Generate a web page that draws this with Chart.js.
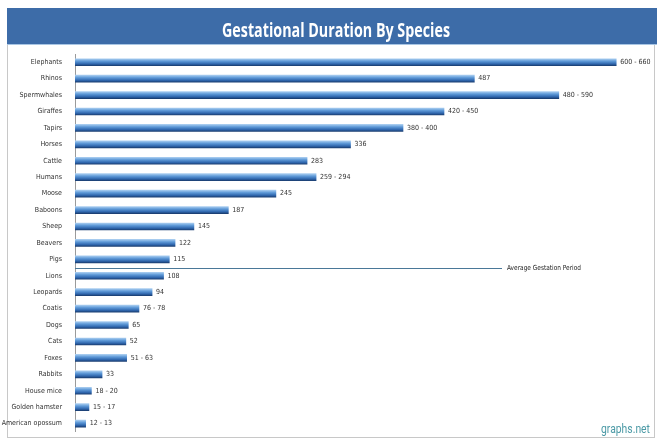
<!DOCTYPE html>
<html>
<head>
<meta charset="utf-8">
<title>Gestational Duration By Species</title>
<script src="https://cdn.jsdelivr.net/npm/chart.js@4.4.1/dist/chart.umd.min.js"></script>
<style>
  html, body { margin: 0; padding: 0; background: #fff; }
  #wrap { position: relative; width: 657px; height: 441px; }
</style>
</head>
<body>
<div id="wrap"><canvas id="chart" width="657" height="441"></canvas></div>
<script>
// species, top to bottom
const species = ['Elephants', 'Rhinos', 'Spermwhales', 'Giraffes', 'Tapirs', 'Horses', 'Cattle',
  'Humans', 'Moose', 'Baboons', 'Sheep', 'Beavers', 'Pigs', 'Lions', 'Leopards', 'Coatis',
  'Dogs', 'Cats', 'Foxes', 'Rabbits', 'House mice', 'Golden hamster', 'American opossum'];
// bar length in days (upper end of a range)
const days = [660, 487, 590, 450, 400, 336, 283, 294, 245, 187, 145, 122, 115, 108, 94, 78,
  65, 62, 63, 33, 20, 17, 13];
// text printed at the end of each bar
const dayLabels = ['600 - 660', '487', '480 - 590', '420 - 450', '380 - 400', '336', '283',
  '259 - 294', '245', '187', '145', '122', '115', '108', '94', '76 - 78', '65', '52', '51 - 63',
  '33', '18 - 20', '15 - 17', '12 - 13'];

const TITLE = 'Gestational Duration By Species';
const AVG_TEXT = 'Average Gestation Period';
const AVG_AFTER = 'Pigs';   // average line sits below this row
const smallFont = '"DejaVu Sans Condensed", sans-serif';

// ===== bar fill: cylinder-like vertical gradient =====
function barFill(c) {
  const chart = c.chart;
  if (!chart.chartArea) return '#3f7cc0';
  const y = chart.scales.y.getPixelForValue(c.dataIndex);
  const g = chart.ctx.createLinearGradient(0, y - 3.5, 0, y + 3.5);
  g.addColorStop(0, '#a9cdf0');
  g.addColorStop(0.35, '#5f9ad8');
  g.addColorStop(0.75, '#2f66ad');
  g.addColorStop(1, '#1b3f73');
  return g;
}

// ===== decorations: title bar, frame, value labels, average line, watermark =====
const decor = {
  id: 'decor',
  beforeDraw(chart) {
    const ctx = chart.ctx;
    ctx.save();
    ctx.fillStyle = '#fff';
    ctx.fillRect(0, 0, chart.width, chart.height);
    // frame
    ctx.strokeStyle = '#c8c8c8';
    ctx.lineWidth = 1;
    ctx.strokeRect(7.5, 44.5, 647, 393);
    // title bar
    ctx.fillStyle = '#3d6ca8';
    ctx.fillRect(7, 8, 650, 36);
    ctx.fillStyle = '#a9c6e4';
    ctx.fillRect(7, 44, 650, 1);
    ctx.fillStyle = '#ffffff';
    ctx.font = 'bold 20px "Open Sans", sans-serif';
    ctx.textAlign = 'center';
    ctx.textBaseline = 'alphabetic';
    ctx.fillText(TITLE, 336, 37, 228);
    ctx.restore();
  },
  afterDatasetsDraw(chart) {
    const ctx = chart.ctx;
    const xs = chart.scales.x, ys = chart.scales.y;
    const meta = chart.getDatasetMeta(0);
    ctx.save();
    ctx.font = '7px ' + smallFont;
    ctx.fillStyle = '#333';
    ctx.textAlign = 'left';
    ctx.textBaseline = 'middle';
    meta.data.forEach((bar, i) => {
      ctx.fillText(dayLabels[i], bar.x + 4, bar.y);
    });
    // average gestation line
    const k = species.indexOf(AVG_AFTER);
    const yAvg = Math.round((ys.getPixelForValue(k) + ys.getPixelForValue(k + 1)) / 2) + 0.5;
    ctx.strokeStyle = '#4a7898';
    ctx.lineWidth = 1;
    ctx.beginPath();
    ctx.moveTo(xs.left, yAvg);
    ctx.lineTo(502, yAvg);
    ctx.stroke();
    ctx.fillStyle = '#222';
    ctx.fillText(AVG_TEXT, 507, yAvg, 74);
    // watermark
    ctx.font = '13px Roboto, sans-serif';
    ctx.fillStyle = '#4c9aa6';
    ctx.textAlign = 'right';
    ctx.textBaseline = 'alphabetic';
    ctx.fillText('graphs.net', 650, 433, 49);
    ctx.restore();
  }
};

new Chart(document.getElementById('chart'), {
  type: 'bar',
  data: {
    labels: species,
    datasets: [{
      data: days,
      backgroundColor: barFill,
      borderWidth: 0,
      barThickness: 7
    }]
  },
  options: {
    indexAxis: 'y',
    responsive: false,
    animation: false,
    layout: { padding: { left: 0, right: 8, top: 54, bottom: 5 } },
    plugins: {
      legend: { display: false },
      title: { display: false },
      tooltip: { enabled: false }
    },
    scales: {
      x: {
        display: false,
        min: 0,
        max: 700
      },
      y: {
        grid: { display: false },
        border: { display: true, color: '#9a9a9a', width: 1 },
        ticks: {
          autoSkip: false,
          color: '#333',
          padding: 5,
          font: { family: smallFont, size: 7 }
        },
        afterFit(scale) { scale.width = 75; }
      }
    }
  },
  plugins: [decor]
});
</script>
</body>
</html>
